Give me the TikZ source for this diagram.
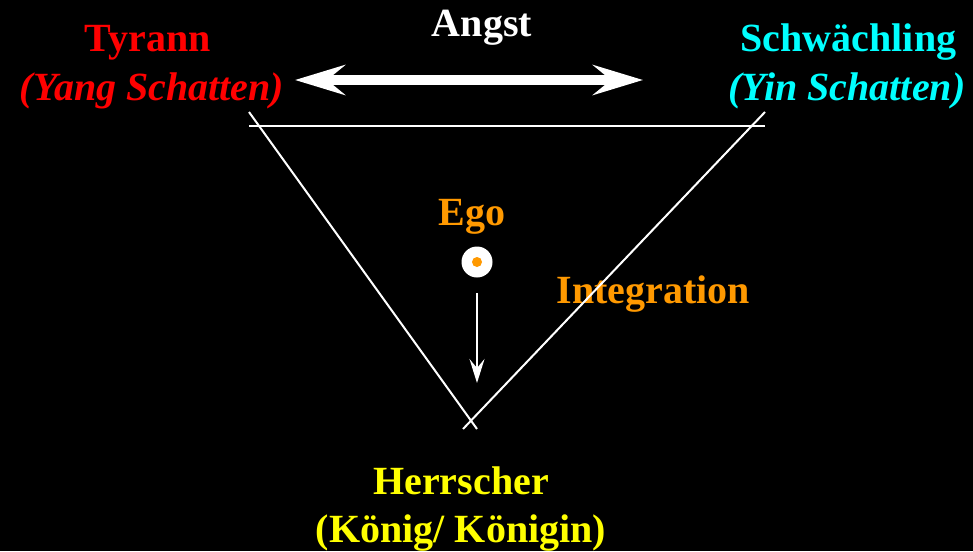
\documentclass[tikz,border=0pt]{standalone}
\usepackage{fontspec}
\setmainfont{Liberation Serif}
\usetikzlibrary{arrows.meta}
\definecolor{tyred}{RGB}{255,0,0}
\definecolor{schcyan}{RGB}{0,255,255}
\definecolor{egoorange}{RGB}{255,153,0}
\definecolor{herryellow}{RGB}{255,255,0}
\begin{document}
\begin{tikzpicture}[x=1pt,y=1pt,
  lbl/.style={inner sep=0pt,anchor=base,font=\fontsize{40}{46}\selectfont\bfseries},
  lbli/.style={inner sep=0pt,anchor=base,font=\fontsize{40}{46}\selectfont\bfseries\itshape},
  tri/.style={draw=white,line width=2pt},
]
\fill[black] (0,0) rectangle (973,-551);
\useasboundingbox (0,0) rectangle (973,-551);
% texts (base line positions)
\node[lbl,text=white] (angst) at (482,-37) {Angst};
\node[lbl,text=tyred] (tyrann) at (147.5,-52) {Tyrann};
\node[lbli,text=tyred] (yang) at (152,-100) {(Yang Schatten)};
\node[lbl,text=schcyan] (schw) at (848.5,-52) {Schwächling};
\node[lbli,text=schcyan] (yin) at (847,-100) {(Yin Schatten)};
\node[lbl,text=egoorange] (egot) at (472,-225) {Ego};
\node[lbl,text=egoorange] (integ) at (653.5,-303) {Integration};
\node[lbl,text=herryellow] (herr) at (461,-494) {Herrscher};
\node[lbl,text=herryellow] (koenig) at (461,-542) {(König/ Königin)};
% double arrow
\coordinate (aL) at (295,-80);
\coordinate (aR) at (643,-80);
\draw[white,line width=10pt,{Stealth[length=50pt,width=30pt,inset=18pt]}-{Stealth[length=50pt,width=30pt,inset=18pt]}] (aL) -- (aR);
% triangle
\coordinate (hL) at (249,-126);
\coordinate (hR) at (765,-126);
\coordinate (lT) at (249,-112);
\coordinate (lB) at (477,-429);
\coordinate (rT) at (765,-112);
\coordinate (rB) at (463,-429);
\draw[tri] (hL) -- (hR);
\draw[tri] (lT) -- (lB);
\draw[tri] (rT) -- (rB);
% ego
\node[circle,fill=white,minimum size=31pt,inner sep=0pt] (ego) at (477,-262) {};
\node[circle,fill=egoorange,minimum size=10pt,inner sep=0pt] (egoc) at (ego) {};
\coordinate (eA) at (477,-293);
\coordinate (eB) at (477,-383);
\draw[white,line width=2pt,-{Stealth[length=24pt,width=15pt,inset=9pt]}] (eA) -- (eB);
\end{tikzpicture}
\end{document}
